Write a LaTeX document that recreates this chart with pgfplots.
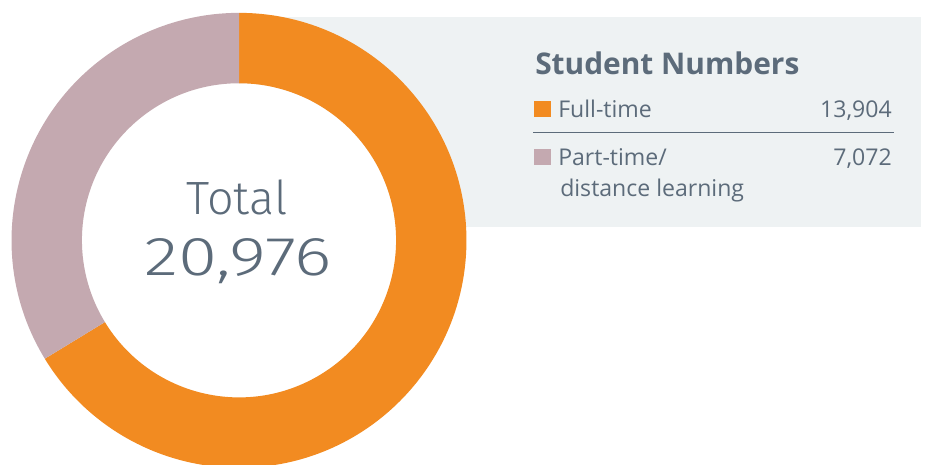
\documentclass[border=0pt]{standalone}
\usepackage{graphicx}
\usepackage{pgfplots}
\pgfplotsset{compat=1.18}
\usepackage{pgfplotstable}
\usepackage{fontspec}
\setmainfont{Open Sans}
\newfontfamily\lightfont{Fira Sans Light}
\definecolor{cOrange}{RGB}{242,139,33}
\definecolor{cMauve}{RGB}{196,169,176}
\definecolor{cPanel}{RGB}{238,242,243}
\definecolor{cText}{RGB}{92,107,122}
\pgfplotstableread{
label value
Full-time 13904
Part-time 7072
}\students
\begin{document}
\begin{tikzpicture}
\pgfplotstablegetelem{0}{value}\of\students \let\vA\pgfplotsretval
\pgfplotstablegetelem{1}{value}\of\students \let\vB\pgfplotsretval
\edef\angA{\fpeval{90-360*\vA/(\vA+\vB)}}
\def\Rout{170.6pt}
\def\Rin{117.8pt}
\begin{axis}[
  hide axis, scale only axis,
  width=693.75pt, height=348pt,
  xmin=0, xmax=925, ymin=0, ymax=464,
]
\fill[cPanel] (axis cs:239,237.3) rectangle (axis cs:921,447.3);
\coordinate (C) at (axis cs:239,224);
\fill[white] (C) circle[radius=\Rin];
\fill[cOrange] ([shift={(90:\Rout)}]C) arc[start angle=90,end angle=\angA,radius=\Rout]
  -- ([shift={(\angA:\Rin)}]C) arc[start angle=\angA,end angle=90,radius=\Rin] -- cycle;
\fill[cMauve] ([shift={(\angA:\Rout)}]C) arc[start angle=\angA,end angle=-270,radius=\Rout]
  -- ([shift={(-270:\Rin)}]C) arc[start angle=-270,end angle=\angA,radius=\Rin] -- cycle;
% centre text
\node[anchor=base, text=cText, font=\lightfont\fontsize{35}{35}\selectfont, inner sep=0pt] at (axis cs:237,249.7) {Total};
\node[anchor=base, text=cText, font=\lightfont\fontsize{41}{41}\selectfont, inner sep=0pt] at (axis cs:238,189) {\scalebox{1.3}[1]{20,976}};
% legend panel
\node[anchor=base west, text=cText, font=\bfseries\fontsize{22.4}{23}\selectfont, inner sep=0pt] at (axis cs:535,389.7) {Student Numbers};
\fill[cOrange] (axis cs:534,346.7) rectangle (axis cs:551,363.3);
\node[anchor=base west, text=cText, font=\fontsize{17.3}{18}\selectfont, inner sep=0pt] at (axis cs:558,346.7) {Full-time};
\node[anchor=base east, text=cText, font=\fontsize{17.3}{18}\selectfont, inner sep=0pt] at (axis cs:892,346.7) {13,904};
\draw[cText, line width=0.9pt] (axis cs:533,331.3) -- (axis cs:894,331.3);
\fill[cMauve] (axis cs:534,299) rectangle (axis cs:551,315.7);
\node[anchor=base west, text=cText, font=\fontsize{17.3}{18}\selectfont, inner sep=0pt] at (axis cs:558,299) {Part-time/};
\node[anchor=base west, text=cText, font=\fontsize{17.3}{18}\selectfont, inner sep=0pt] at (axis cs:560,268) {distance learning};
\node[anchor=base east, text=cText, font=\fontsize{17.3}{18}\selectfont, inner sep=0pt] at (axis cs:892,299) {7,072};
\end{axis}
\pgfresetboundingbox
\useasboundingbox (current axis.south west) rectangle (current axis.north east);
\end{tikzpicture}
\end{document}
